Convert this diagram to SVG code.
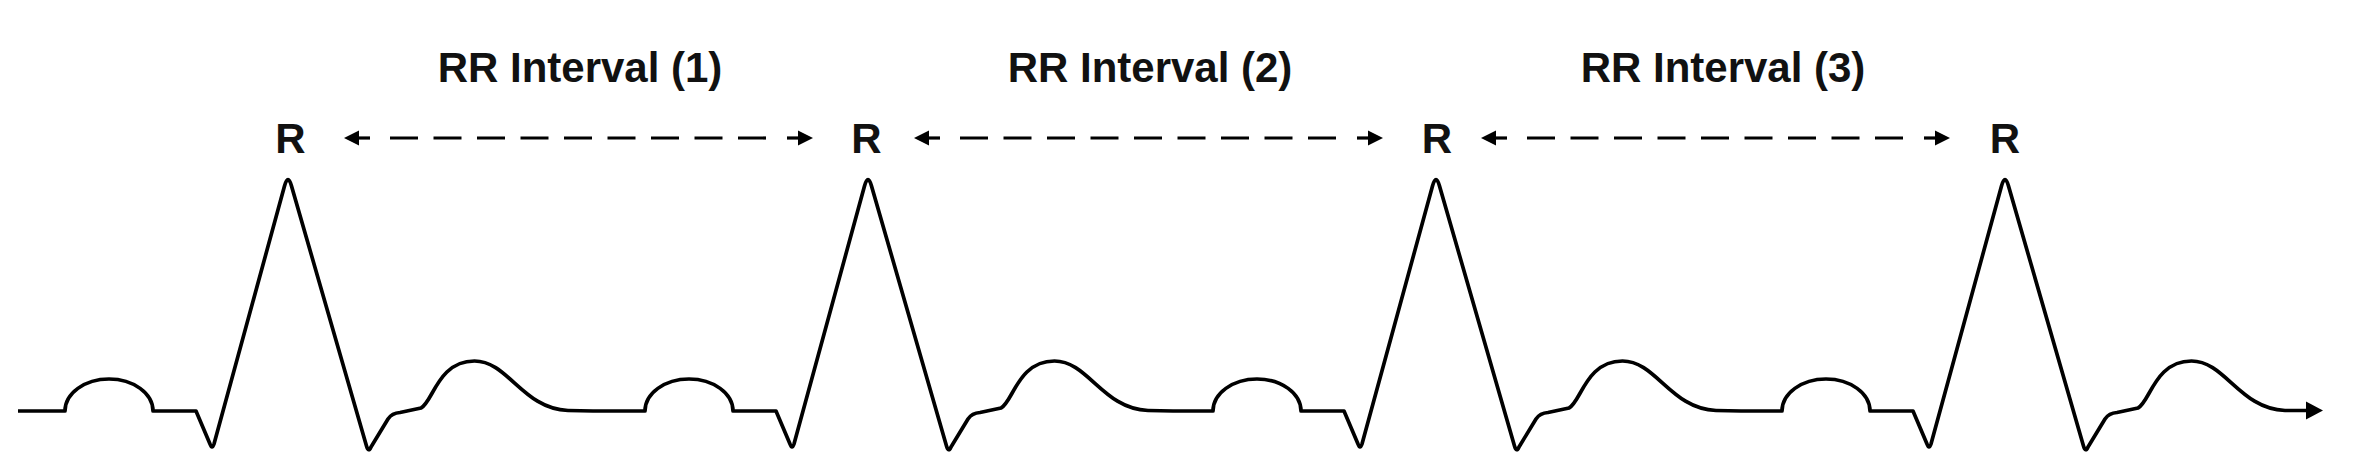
<svg xmlns="http://www.w3.org/2000/svg" xmlns:xlink="http://www.w3.org/1999/xlink" width="2375" height="473" viewBox="0 0 2375 473">
  <style>
    .trace { fill: none; stroke: #000; stroke-width: 3.7; stroke-linejoin: round; stroke-linecap: butt; }
    .lbl { font-family: "Liberation Sans", Arial, sans-serif; font-weight: bold; font-size: 42px; fill: #111; text-anchor: middle; }
    .dash { stroke: #000; stroke-width: 3.2; fill: none; }
    .head { fill: #000; stroke: none; }
  </style>
  <defs>
    <marker id="endArrow" markerUnits="userSpaceOnUse" markerWidth="20" markerHeight="20" viewBox="0 -10 20 20" refX="4" refY="0" orient="auto">
      <path d="M0 -9 L17 0 L0 9 Z" fill="#000"/>
    </marker>
    <g id="rrArrow">
      <path class="head" d="M0 0 L15 -7.5 L15 7.5 Z"/>
      <line class="dash" x1="14" y1="0" x2="26" y2="0"/>
      <line class="dash" x1="46" y1="0" x2="423" y2="0" stroke-dasharray="28 15.5"/>
      <line class="dash" x1="443" y1="0" x2="455" y2="0"/>
      <path class="head" d="M469 0 L454 -7.5 L454 7.5 Z"/>
    </g>
  </defs>
  <rect width="2375" height="473" fill="#fff"/>

  <g id="ecg-trace">
    <path class="trace" marker-end="url(#endArrow)" d="M 18 411 H 65
      a 44 32 0 0 1 88 0 h 43 l 14 33 q 2 6 4 0 l 70.5 -258 q 3.5 -13 7 0 l 75 260 q 2 7 4.5 1 l 17 -28 q 4 -6 12 -6.5 l 21 -4.5 c 12 -6 17 -47 53.5 -47 c 33.5 0 48.5 48 93.5 49.5 l 25 0.5
      H 645
      a 44 32 0 0 1 88 0 h 43 l 14 33 q 2 6 4 0 l 70.5 -258 q 3.5 -13 7 0 l 75 260 q 2 7 4.5 1 l 17 -28 q 4 -6 12 -6.5 l 21 -4.5 c 12 -6 17 -47 53.5 -47 c 33.5 0 48.5 48 93.5 49.5 l 25 0.5
      H 1213
      a 44 32 0 0 1 88 0 h 43 l 14 33 q 2 6 4 0 l 70.5 -258 q 3.5 -13 7 0 l 75 260 q 2 7 4.5 1 l 17 -28 q 4 -6 12 -6.5 l 21 -4.5 c 12 -6 17 -47 53.5 -47 c 33.5 0 48.5 48 93.5 49.5 l 25 0.5
      H 1782
      a 44 32 0 0 1 88 0 h 43 l 14 33 q 2 6 4 0 l 70.5 -258 q 3.5 -13 7 0 l 75 260 q 2 7 4.5 1 l 17 -28 q 4 -6 12 -6.5 l 21 -4.5 c 12 -6 17 -47 53.5 -47 c 33.5 0 48.5 48 93.5 49.5 l 25 0"/>
  </g>

  <g id="r-peak-1"><text class="lbl" x="290.5" y="153">R</text></g>
  <g id="r-peak-2"><text class="lbl" x="866.5" y="153">R</text></g>
  <g id="r-peak-3"><text class="lbl" x="1437" y="153">R</text></g>
  <g id="r-peak-4"><text class="lbl" x="2005" y="153">R</text></g>

  <g id="rr-interval-1"><text class="lbl" x="580" y="82">RR Interval (1)</text></g>
  <g id="rr-interval-2"><text class="lbl" x="1150" y="82">RR Interval (2)</text></g>
  <g id="rr-interval-3"><text class="lbl" x="1723" y="82">RR Interval (3)</text></g>

  <g id="connectors">
    <use xlink:href="#rrArrow" href="#rrArrow" transform="translate(344,138)"/>
    <use xlink:href="#rrArrow" href="#rrArrow" transform="translate(914,138)"/>
    <use xlink:href="#rrArrow" href="#rrArrow" transform="translate(1481,138)"/>
  </g>
</svg>
